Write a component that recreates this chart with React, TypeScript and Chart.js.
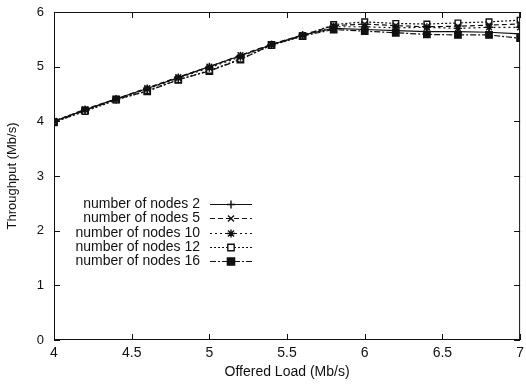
import React, { useEffect, useRef } from "react";
import { Chart, registerables } from "chart.js";

Chart.register(...registerables);

const offeredLoad = [4.0, 4.2, 4.4, 4.6, 4.8, 5.0, 5.2, 5.4, 5.6, 5.8, 6.0, 6.2, 6.4, 6.6, 6.8, 7.0];
const nodes2 = [4.00, 4.21, 4.41, 4.60, 4.80, 5.00, 5.20, 5.40, 5.58, 5.70, 5.68, 5.66, 5.64, 5.64, 5.63, 5.60];
const nodes5 = [4.00, 4.22, 4.41, 4.61, 4.81, 5.00, 5.21, 5.41, 5.58, 5.75, 5.78, 5.75, 5.73, 5.74, 5.76, 5.78];
const nodes10 = [4.01, 4.21, 4.40, 4.59, 4.79, 4.98, 5.18, 5.40, 5.57, 5.73, 5.73, 5.71, 5.72, 5.70, 5.72, 5.72];
const nodes12 = [3.99, 4.18, 4.39, 4.56, 4.76, 4.93, 5.14, 5.39, 5.56, 5.77, 5.82, 5.79, 5.78, 5.80, 5.82, 5.85];
const nodes16 = [3.98, 4.20, 4.40, 4.55, 4.76, 4.92, 5.13, 5.40, 5.56, 5.68, 5.65, 5.62, 5.59, 5.58, 5.58, 5.52];
const seriesLabels = ["number of nodes 2", "number of nodes 5", "number of nodes 10", "number of nodes 12", "number of nodes 16"];
const xTitle = "Offered Load (Mb/s)";
const yTitle = "Throughput (Mb/s)";

const FONT = "'Liberation Sans', Arial, sans-serif";
const INK = "#111";

function drawPoint(ctx: CanvasRenderingContext2D, style: string, x: number, y: number, r: number, fill: string) {
  ctx.save();
  ctx.strokeStyle = INK;
  ctx.fillStyle = fill;
  ctx.lineWidth = 1.4;
  ctx.setLineDash([]);
  ctx.beginPath();
  if (style === "cross") {
    ctx.moveTo(x - r, y); ctx.lineTo(x + r, y);
    ctx.moveTo(x, y - r); ctx.lineTo(x, y + r);
    ctx.stroke();
  } else if (style === "crossRot") {
    const d = r * 0.75;
    ctx.moveTo(x - d, y - d); ctx.lineTo(x + d, y + d);
    ctx.moveTo(x - d, y + d); ctx.lineTo(x + d, y - d);
    ctx.stroke();
  } else if (style === "star") {
    const d = r * 0.75;
    ctx.moveTo(x - r, y); ctx.lineTo(x + r, y);
    ctx.moveTo(x, y - r); ctx.lineTo(x, y + r);
    ctx.moveTo(x - d, y - d); ctx.lineTo(x + d, y + d);
    ctx.moveTo(x - d, y + d); ctx.lineTo(x + d, y - d);
    ctx.stroke();
  } else {
    ctx.rect(x - r * 0.8, y - r * 0.8, r * 1.6, r * 1.6);
    ctx.fill();
    ctx.stroke();
  }
  ctx.restore();
}

const frameAndTicks = {
  id: "frameAndTicks",
  afterDatasetsDraw(chart: any) {
    const { ctx, chartArea: a, scales } = chart;
    ctx.save();
    ctx.strokeStyle = INK;
    ctx.lineWidth = 1;
    ctx.setLineDash([]);
    ctx.strokeRect(a.left + 0.5, a.top + 0.5, a.right - a.left - 1, a.bottom - a.top - 1);
    const L = 6;
    ctx.beginPath();
    scales.x.ticks.forEach((t: any) => {
      const px = Math.round(scales.x.getPixelForValue(t.value)) + 0.5;
      ctx.moveTo(px, a.bottom); ctx.lineTo(px, a.bottom - L);
      ctx.moveTo(px, a.top); ctx.lineTo(px, a.top + L);
    });
    scales.y.ticks.forEach((t: any) => {
      const py = Math.round(scales.y.getPixelForValue(t.value)) + 0.5;
      ctx.moveTo(a.left, py); ctx.lineTo(a.left + L, py);
      ctx.moveTo(a.right, py); ctx.lineTo(a.right - L, py);
    });
    ctx.stroke();
    ctx.restore();
  },
};

const keyLegend = {
  id: "keyLegend",
  afterDraw(chart: any) {
    const { ctx } = chart;
    const textRight = 200;
    const x0 = 210;
    const x1 = 252;
    const top = 204;
    const step = 14.25;
    ctx.save();
    chart.data.datasets.forEach((ds: any, i: number) => {
      const y = Math.round(top + i * step);
      ctx.fillStyle = INK;
      ctx.font = `14px ${FONT}`;
      ctx.textAlign = "right";
      ctx.textBaseline = "middle";
      ctx.fillText(ds.label, textRight, y + 0.5);
      ctx.strokeStyle = INK;
      ctx.lineWidth = 1;
      ctx.setLineDash(ds.borderDash || []);
      ctx.beginPath();
      ctx.moveTo(x0, y + 0.5);
      ctx.lineTo(x1, y + 0.5);
      ctx.stroke();
      drawPoint(ctx, ds.pointStyle, (x0 + x1) / 2, y + 0.5, ds.pointRadius, ds.pointBackgroundColor);
    });
    ctx.restore();
  },
};

function makeDataset(label: string, values: number[], pointStyle: string, dash: number[], fill: string, radius: number) {
  return {
    label,
    data: offeredLoad.map((x, i) => ({ x, y: values[i] })),
    borderColor: INK,
    borderWidth: 1.2,
    borderDash: dash,
    pointStyle,
    pointRadius: radius,
    pointBorderColor: INK,
    pointBorderWidth: 1.4,
    pointBackgroundColor: fill,
    tension: 0,
    fill: false,
  };
}

export default function App() {
  const ref = useRef<HTMLCanvasElement | null>(null);
  useEffect(() => {
    document.body.style.margin = "0";
    const chart = new Chart(ref.current as HTMLCanvasElement, {
      type: "line",
      data: {
        datasets: [
          makeDataset(seriesLabels[0], nodes2, "cross", [], INK, 4),
          makeDataset(seriesLabels[1], nodes5, "crossRot", [5, 3], INK, 4),
          makeDataset(seriesLabels[2], nodes10, "star", [2, 3], INK, 4),
          makeDataset(seriesLabels[3], nodes12, "rect", [2, 2], "#fff", 4),
          makeDataset(seriesLabels[4], nodes16, "rect", [6, 2, 2, 2], INK, 4.5),
        ] as any,
      },
      options: {
        animation: false,
        responsive: false,
        maintainAspectRatio: false,
        layout: { padding: { top: 12, right: 5, left: 0, bottom: 0 } },
        plugins: { legend: { display: false }, tooltip: { enabled: false } },
        scales: {
          x: {
            type: "linear",
            min: 4,
            max: 7,
            grid: { display: false, drawTicks: false },
            border: { display: false },
            ticks: {
              stepSize: 0.5,
              color: INK,
              font: { family: FONT, size: 14 },
              padding: 5,
              maxRotation: 0,
              callback: (v: any) => String(Number(v)),
            },
            title: { display: true, text: xTitle, color: INK, font: { family: FONT, size: 14 }, padding: { top: 0, bottom: 4 } },
            afterFit(s: any) {
              s.height = 45;
              s.paddingLeft = 0;
              s.paddingRight = 0;
            },
          },
          y: {
            min: 0,
            max: 6,
            grid: { display: false, drawTicks: false },
            border: { display: false },
            ticks: { stepSize: 1, color: INK, font: { family: FONT, size: 13 }, padding: 10 },
            title: { display: true, text: yTitle, color: INK, font: { family: FONT, size: 13 }, padding: { top: 5, bottom: 0 } },
            afterFit(s: any) {
              s.width = 54;
              s.paddingTop = 0;
              s.paddingBottom = 0;
            },
          },
        },
      },
      plugins: [frameAndTicks, keyLegend],
    } as any);
    return () => chart.destroy();
  }, []);
  return (
    <div style={{ position: "absolute", left: 0, top: 0, width: 526, height: 385, background: "#fff" }}>
      <canvas ref={ref} width={526} height={385} style={{ width: 526, height: 385 }} />
    </div>
  );
}
